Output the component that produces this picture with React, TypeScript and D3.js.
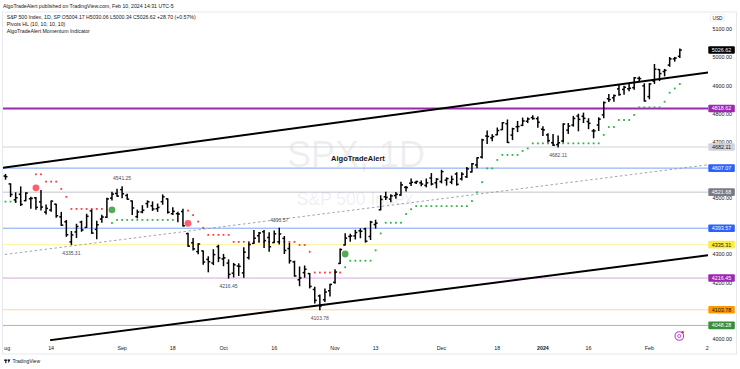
import React from 'react';
import * as d3 from 'd3';

// ---------- DATA ----------
const dates = [
  'Aug 1','Aug 2','Aug 3','Aug 4','Aug 7','Aug 8','Aug 9','Aug 10','Aug 11','Aug 14','Aug 15','Aug 16','Aug 17','Aug 18','Aug 21','Aug 22','Aug 23','Aug 24','Aug 25','Aug 28','Aug 29','Aug 30','Aug 31',
  'Sep 1','Sep 5','Sep 6','Sep 7','Sep 8','Sep 11','Sep 12','Sep 13','Sep 14','Sep 15','Sep 18','Sep 19','Sep 20','Sep 21','Sep 22','Sep 25','Sep 26','Sep 27','Sep 28','Sep 29',
  'Oct 2','Oct 3','Oct 4','Oct 5','Oct 6','Oct 9','Oct 10','Oct 11','Oct 12','Oct 13','Oct 16','Oct 17','Oct 18','Oct 19','Oct 20','Oct 23','Oct 24','Oct 25','Oct 26','Oct 27','Oct 30','Oct 31',
  'Nov 1','Nov 2','Nov 3','Nov 6','Nov 7','Nov 8','Nov 9','Nov 10','Nov 13','Nov 14','Nov 15','Nov 16','Nov 17','Nov 20','Nov 21','Nov 22','Nov 24','Nov 27','Nov 28','Nov 29','Nov 30',
  'Dec 1','Dec 4','Dec 5','Dec 6','Dec 7','Dec 8','Dec 11','Dec 12','Dec 13','Dec 14','Dec 15','Dec 18','Dec 19','Dec 20','Dec 21','Dec 22','Dec 26','Dec 27','Dec 28','Dec 29',
  'Jan 2','Jan 3','Jan 4','Jan 5','Jan 8','Jan 9','Jan 10','Jan 11','Jan 12','Jan 16','Jan 17','Jan 18','Jan 19','Jan 22','Jan 23','Jan 24','Jan 25','Jan 26','Jan 29','Jan 30','Jan 31',
  'Feb 1','Feb 2','Feb 5','Feb 6','Feb 7','Feb 8','Feb 9'
];
const opens = [4578.83,4550.93,4494.27,4513.96,4491.58,4498.03,4501.57,4487.16,4450.69,4458.13,4478.87,4433.79,4416.32,4344.88,4380.28,4415.33,4396.44,4455.16,4389.38,4426.03,4432.75,4500.34,4517.01,
  4530.6,4510.06,4490.35,4434.55,4451.3,4480.98,4473.27,4462.65,4487.78,4497.98,4445.13,4445.41,4452.81,4374.36,4341.74,4310.62,4312.88,4282.63,4269.65,4328.18,
  4284.52,4269.75,4233.83,4259.31,4234.79,4289.02,4339.75,4366.59,4380.94,4360.49,4342.37,4345.23,4357.35,4321.36,4273.85,4210.4,4235.79,4232.42,4175.99,4152.93,4139.39,4171.33,
  4201.27,4268.26,4334.23,4364.27,4366.21,4384.37,4391.41,4364.15,4406.66,4458.97,4505.3,4497.08,4509.55,4511.7,4538.77,4553.04,4555.84,4554.86,4545.55,4571.84,4554.87,
  4559.43,4564.37,4557.25,4586.23,4568.84,4576.2,4593.39,4618.3,4646.2,4721.04,4714.23,4725.58,4743.72,4764.73,4724.29,4753.92,4758.86,4773.45,4786.44,4782.88,
  4745.2,4725.07,4697.42,4690.57,4703.7,4741.93,4759.94,4792.13,4791.18,4772.35,4739.13,4760.1,4796.28,4853.42,4856.8,4888.56,4886.66,4888.91,4892.95,4925.89,4899.19,
  4861.11,4916.06,4957.19,4950.16,4973.05,4995.16,5004.17];
const highs = [4584.62,4550.93,4519.49,4540.34,4519.84,4503.31,4502.44,4527.37,4476.23,4490.33,4478.87,4449.95,4421.17,4381.82,4407.55,4418.59,4443.18,4458.3,4418.46,4439.56,4500.14,4521.65,4532.26,
  4541.25,4514.29,4490.35,4457.81,4473.53,4490.77,4487.11,4479.39,4511.99,4497.98,4466.36,4449.85,4461.03,4375.7,4357.4,4338.51,4313.01,4292.07,4317.27,4333.15,
  4300.58,4281.15,4268.5,4267.13,4324.1,4341.73,4385.46,4378.64,4385.85,4377.1,4383.33,4393.57,4364.2,4339.54,4276.56,4255.84,4259.38,4232.42,4183.6,4156.7,4177.47,4194.33,
  4245.64,4319.72,4373.62,4372.21,4386.26,4391.2,4393.4,4418.03,4421.76,4508.67,4521.17,4511.99,4520.12,4557.11,4542.14,4568.43,4560.31,4561.64,4568.14,4587.64,4569.89,
  4599.39,4572.37,4578.56,4590.74,4590.92,4609.23,4623.71,4643.93,4709.69,4738.57,4725.53,4749.52,4768.69,4778.01,4748.71,4772.94,4784.72,4785.39,4793.3,4788.43,
  4754.33,4729.29,4726.78,4721.49,4764.54,4765.47,4790.8,4798.5,4802.4,4782.34,4744.23,4785.79,4842.07,4868.41,4866.48,4903.68,4898.15,4906.69,4929.31,4931.09,4906.75,
  4906.97,4975.29,4957.19,4957.77,4999.89,5000.4,5030.06];
const lows = [4567.53,4505.75,4485.54,4474.55,4491.15,4464.39,4461.33,4457.92,4443.98,4453.44,4432.19,4403.55,4364.83,4335.31,4360.3,4382.77,4396.44,4375.55,4356.29,4414.98,4431.68,4493.59,4507.39,
  4501.35,4496.01,4442.38,4430.46,4448.38,4467.89,4456.83,4453.52,4478.69,4447.21,4442.11,4416.61,4401.38,4329.17,4316.49,4302.7,4265.98,4238.63,4264.38,4274.86,
  4260.21,4216.45,4220.48,4225.91,4219.55,4283.79,4339.64,4345.34,4325.43,4311.97,4342.37,4337.54,4303.84,4269.69,4223.03,4189.22,4219.43,4181.42,4127.9,4103.78,4132.94,4153.12,
  4197.74,4268.26,4334.23,4347.53,4355.41,4359.76,4343.94,4353.34,4393.82,4458.97,4495.31,4487.83,4499.66,4510.36,4525.51,4545.05,4552.8,4544.8,4540.51,4547.15,4537.24,
  4554.71,4546.72,4551.68,4546.5,4565.22,4574.06,4593.39,4608.09,4643.23,4694.34,4704.69,4725.58,4743.72,4697.82,4708.35,4736.77,4758.45,4768.9,4780.98,4751.99,
  4722.67,4699.71,4687.53,4682.11,4699.82,4730.35,4756.2,4739.58,4768.98,4747.12,4714.82,4740.57,4785.87,4844.05,4844.37,4865.94,4869.34,4881.47,4887.4,4916.27,4845.15,
  4853.52,4907.99,4918.09,4934.88,4969.05,4987.09,5000.34];
const closes = [4576.73,4513.39,4501.89,4478.03,4518.44,4499.38,4467.71,4468.83,4464.05,4489.72,4437.86,4404.33,4370.36,4369.71,4399.77,4387.55,4436.01,4376.31,4405.71,4433.31,4497.63,4514.87,4507.66,
  4515.77,4496.83,4465.48,4451.14,4457.49,4487.46,4461.9,4467.44,4505.1,4450.32,4453.53,4443.95,4402.2,4330.0,4320.06,4337.44,4273.53,4274.51,4299.7,4288.05,
  4288.39,4229.45,4263.75,4258.19,4308.5,4335.66,4358.24,4376.95,4349.61,4327.78,4373.63,4373.2,4314.6,4278.0,4224.16,4217.04,4247.68,4186.77,4137.23,4117.37,4166.82,4193.8,
  4237.86,4317.78,4358.34,4365.98,4378.38,4382.78,4347.35,4415.24,4411.55,4495.7,4502.88,4508.24,4514.02,4547.38,4538.19,4556.62,4559.34,4550.43,4554.89,4550.58,4567.8,
  4594.63,4569.78,4567.18,4549.34,4585.59,4604.37,4622.44,4643.7,4707.09,4719.55,4719.19,4740.56,4768.37,4698.35,4746.75,4754.63,4774.75,4781.58,4783.35,4769.83,
  4742.83,4704.81,4688.68,4697.24,4763.54,4756.5,4783.45,4780.24,4783.83,4765.98,4739.21,4780.94,4839.81,4850.43,4864.6,4868.55,4894.16,4890.97,4927.93,4924.97,4845.65,
  4906.19,4958.61,4942.81,4954.23,4995.06,4997.91,5026.61];

// Momentum indicator trailing stops: [fromBar, toBar, level]
const bearStops: [number, number, number][] = [[6,7,4585],[8,10,4559],[11,11,4533],[12,12,4505],[13,19,4462],[36,36,4456],[37,37,4440],[38,38,4417],[39,39,4395],[40,44,4370],[45,57,4345],[58,59,4334],[60,60,4310],[61,66,4236]];
const bullStops: [number, number, number][] = [[0,3,4488],[21,21,4412],[22,33,4423],[67,67,4255],[68,72,4278],[73,73,4315],[74,74,4375],[75,78,4413],[79,79,4444],[80,80,4461],[81,91,4472],[92,92,4490],[93,93,4521],[94,94,4557],[95,96,4606],[97,97,4636],[98,101,4654],[102,102,4668],[103,103,4677],[104,117,4695],[118,118,4725],[119,120,4753],[121,123,4778],[124,124,4796],[125,129,4823],[130,130,4843],[131,131,4875],[132,132,4890],[133,133,4906]];
const signalBars = [6, 21, 36, 67];
const signalLevels = [4537, 4459, 4411, 4302];
const signalTypes = ['sell', 'buy', 'sell', 'buy'];

// Pivots HL labels
const pivotBars = [23, 13, 44, 54, 62, 109];
const pivotValues = [4541.25, 4335.31, 4216.45, 4393.57, 4103.78, 4682.11];
const pivotKinds = ['H', 'L', 'L', 'H', 'L', 'L'];

// Horizontal levels
const levelValues = [4818.62, 4682.11, 4607.07, 4521.68, 4393.57, 4335.31, 4216.45, 4103.78, 4048.28];
const levelLineColors = ['#9c27b0', '#d1d4dc', '#7ea3f5', '#c3c5cc', '#7ea3f5', '#fff59d', '#d7a6e0', '#ffd699', '#93c496'];
const levelLineWidths = [2, 1, 1, 1, 1, 1, 1, 1, 1];
const levelLabelBg = ['#9c27b0', '#d1d4dc', '#2962ff', '#787b86', '#2962ff', '#ffeb3b', '#9c27b0', '#ff9800', '#388e3c'];
const levelLabelFg = ['#ffffff', '#131722', '#ffffff', '#ffffff', '#ffffff', '#131722', '#ffffff', '#131722', '#ffffff'];

// Trend lines [bar0, price0, bar1, price1]
const upperTrend = [-1.1, 4607, 138.6, 4947];
const lowerTrend = [8.8, 3996, 138.6, 4298];
const dottedTrend = [-1.1, 4298, 138.6, 4619];

// Axes
const priceTicks = [4000, 4100, 4200, 4300, 4400, 4500, 4600, 4700, 4800, 4900, 5000, 5100];
const timeTickBars = [0, 9, 23, 33, 43, 53, 65, 73, 86, 97, 106, 115, 127, 138.4];
const timeTickLabels = ['Aug', '14', 'Sep', '18', 'Oct', '16', 'Nov', '13', 'Dec', '18', '2024', '16', 'Feb', '2'];
const lastPrice = 5026.62;

const FONT = '"Liberation Sans", Arial, sans-serif';

export default function App() {
  const W = 740, H = 369;
  const plotL = 3, plotR = 708, plotT = 12, plotB = 341;
  const x = d3.scaleLinear().domain([0, 133]).range([5.5, 5.5 + 133 * 5.07]);
  const y = d3.scaleLinear().domain([4000, 5100]).range([339, 29.35]);

  const line = (t: number[]) => ({ x1: x(t[0]), y1: y(t[1]), x2: x(t[2]), y2: y(t[3]) });
  const up = line(upperTrend), lo = line(lowerTrend), dt = line(dottedTrend);

  const dots = (segs: [number, number, number][]) => {
    const out: { i: number; v: number }[] = [];
    segs.forEach(([a, b, v]) => { for (let i = a; i <= b; i++) out.push({ i, v }); });
    return out;
  };
  const redDots = dots(bearStops), greenDots = dots(bullStops);

  // tick labels fully covered by a level label box are not drawn (they are hidden in the reference)
  const visibleTicks = priceTicks.filter((t) => levelValues.every((v) => Math.abs(y(t) - y(v)) >= 3));

  const tickHalf = 2;

  return (
    <svg width={W} height={H} style={{ position: 'absolute', left: 0, top: 0, background: '#fff' }} fontFamily={FONT}>
      <defs>
        <clipPath id="plot"><rect x={plotL} y={plotT} width={plotR - plotL} height={plotB - plotT} /></clipPath>
        <clipPath id="xaxis"><rect x={plotL + 1} y={plotB} width={plotR - plotL} height={14} /></clipPath>
      </defs>
      <rect x={0} y={0} width={W} height={H} fill="#ffffff" />
      <text x={3} y={7.6} fontSize={5.2} fill="#131722">AlgoTradeAlert published on TradingView.com, Feb 10, 2024 14:31 UTC-5</text>
      <rect x={2.5} y={12} width={734} height={342} fill="none" stroke="#e0e3eb" strokeWidth={0.8} />

      <g clipPath="url(#plot)">
        {/* watermark */}
        <text x={356} y={167} fontSize={36} textAnchor="middle" fill="#787b86" fillOpacity={0.13}>SPX, 1D</text>
        <text x={355} y={205} fontSize={17.5} textAnchor="middle" fill="#787b86" fillOpacity={0.13}>S&amp;P 500 Index</text>

        {levelValues.map((v, k) => (
          <line key={'lv' + k} x1={plotL} x2={plotR} y1={y(v)} y2={y(v)} stroke={levelLineColors[k]} strokeWidth={levelLineWidths[k]} />
        ))}
        <line {...dt} stroke="#9598a1" strokeWidth={0.9} strokeDasharray="2.5 2.5" />

        {redDots.map((d, k) => (
          <rect key={'rd' + k} x={x(d.i) - 0.9} y={y(d.v) - 0.9} width={1.8} height={1.8} fill="#ff3b3b" />
        ))}
        {greenDots.map((d, k) => (
          <rect key={'gd' + k} x={x(d.i) - 0.9} y={y(d.v) - 0.9} width={1.8} height={1.8} fill="#2fb344" />
        ))}

        {closes.map((c, i) => {
          const cx = x(i);
          return (
            <g key={'b' + i} stroke="#000" strokeWidth={1.5}>
              <line x1={cx} x2={cx} y1={y(highs[i]) - 0.5} y2={y(lows[i]) + 0.5} />
              <line x1={cx - tickHalf} x2={cx} y1={y(opens[i])} y2={y(opens[i])} />
              <line x1={cx} x2={cx + tickHalf} y1={y(c)} y2={y(c)} />
            </g>
          );
        })}

        {signalBars.map((b, k) => (
          <circle key={'sg' + k} cx={x(b)} cy={y(signalLevels[k])} r={3.4} fill={signalTypes[k] === 'buy' ? '#43a047' : '#ff4d5a'} opacity={0.9} />
        ))}

        <line {...up} stroke="#000" strokeWidth={2} />
        <line {...lo} stroke="#000" strokeWidth={2} />

        {pivotBars.map((b, k) => (
          <text key={'pv' + k} x={x(b)} y={pivotKinds[k] === 'H' ? y(pivotValues[k]) - 6.5 : y(pivotValues[k]) + 10} fontSize={5} textAnchor="middle" fill="#4a4d57">
            {pivotValues[k].toFixed(2)}
          </text>
        ))}

        <text x={358} y={160.6} fontSize={7.5} fontWeight={600} textAnchor="middle" fill="#131722">AlgoTradeAlert</text>

        {/* event marker */}
        <circle cx={679.3} cy={336} r={4.3} fill="#fff" stroke="#b23fc9" strokeWidth={1.1} />
        <circle cx={679.3} cy={336} r={1.6} fill="none" stroke="#b23fc9" strokeWidth={0.9} />
        <circle cx={682.6} cy={332.2} r={1.3} fill="#f23645" />
      </g>

      {/* header legend */}
      <text x={6.7} y={18.5} fontSize={5.2} fill="#131722">S&amp;P 500 Index, 1D, SP  O5004.17  H5030.06  L5000.34  C5026.62  +28.70 (+0.57%)</text>
      <text x={6.7} y={25.8} fontSize={5.2} fill="#131722">Pivots HL (10, 10, 10, 10)</text>
      <text x={6.7} y={33} fontSize={5.2} fill="#131722">AlgoTradeAlert Momentum Indicator</text>

      {/* price axis */}
      <rect x={710.5} y={14.3} width={14} height={6.8} rx={1} fill="#fff" stroke="#e0e3eb" strokeWidth={0.6} />
      <text x={717.5} y={19.6} fontSize={4.8} textAnchor="middle" fill="#131722">USD</text>
      {visibleTicks.map((t) => (
        <text key={'pt' + t} x={712.5} y={y(t) + 1.9} fontSize={5.4} fill="#131722">{t.toFixed(2)}</text>
      ))}
      {levelValues.map((v, k) => (
        <g key={'lb' + k}>
          <rect x={708.3} y={y(v) - 3.8} width={26.5} height={7.6} rx={1} fill={levelLabelBg[k]} />
          <text x={721.5} y={y(v) + 1.9} fontSize={5.4} textAnchor="middle" fill={levelLabelFg[k]}>{v.toFixed(2)}</text>
        </g>
      ))}
      <rect x={708.3} y={y(lastPrice) - 3.8} width={26.5} height={7.6} rx={1} fill="#000" />
      <text x={721.5} y={y(lastPrice) + 1.9} fontSize={5.4} textAnchor="middle" fill="#fff">{lastPrice.toFixed(2)}</text>

      {/* time axis */}
      <g clipPath="url(#xaxis)">
        {timeTickBars.map((b, k) => (
          <text key={'tt' + k} x={x(b)} y={350} fontSize={5.3} textAnchor="middle" fill="#131722" fontWeight={timeTickLabels[k] === '2024' ? 700 : 400}>
            {timeTickLabels[k]}
          </text>
        ))}
      </g>

      {/* footer */}
      <g fill="#131722">
        <rect x={4} y={359.6} width={3.2} height={1.2} />
        <rect x={5.2} y={359.6} width={1.2} height={3.6} />
        <path d="M7.8 359.6 L10.4 359.6 L8.6 363.2 Z" />
        <circle cx={8.2} cy={360.2} r={0.6} />
      </g>
      <text x={12.5} y={363.3} fontSize={5} fill="#131722">TradingView</text>
    </svg>
  );
}
